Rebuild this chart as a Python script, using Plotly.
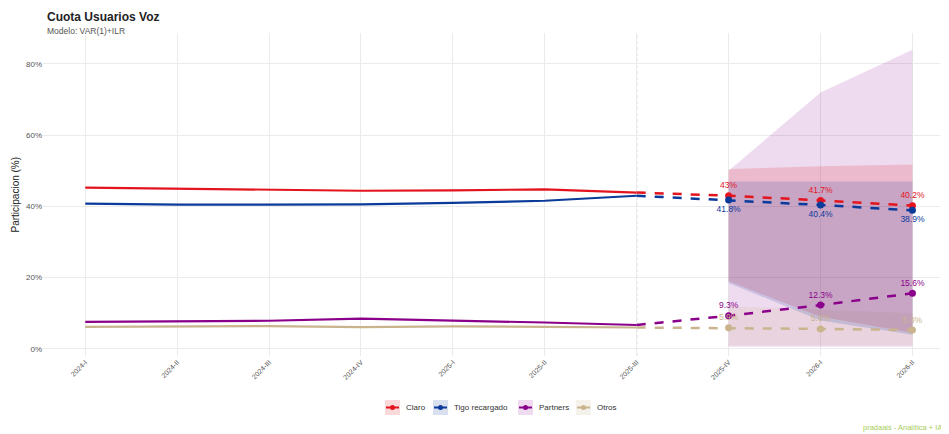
import plotly.graph_objects as go

periods = ["2024-I", "2024-II", "2024-III", "2024-IV", "2025-I", "2025-II",
           "2025-III", "2025-IV", "2026-I", "2026-II"]
hist_periods = periods[:7]
fc_periods = periods[7:]

series = ["Claro", "Tigo recargado", "Partners", "Otros"]
colors = {"Claro": "#E3141E", "Tigo recargado": "#0A3A9A",
          "Partners": "#8B008B", "Otros": "#C9B48E"}
band_rgba = {"Claro": "rgba(227,20,30,0.16)", "Tigo recargado": "rgba(10,58,154,0.16)",
             "Partners": "rgba(139,0,139,0.14)", "Otros": "rgba(201,180,142,0.18)"}

hist_claro = [45.3, 45.0, 44.7, 44.4, 44.5, 44.8, 43.9]
hist_tigo = [40.8, 40.5, 40.5, 40.6, 41.0, 41.6, 43.0]
hist_partners = [7.6, 7.8, 7.9, 8.5, 8.0, 7.4, 6.7]
hist_otros = [6.2, 6.3, 6.4, 6.1, 6.3, 6.2, 6.0]

fc_claro = [43.0, 41.7, 40.2]
fc_tigo = [41.8, 40.4, 38.9]
fc_partners = [9.3, 12.3, 15.6]
fc_otros = [5.9, 5.6, 5.3]

lo_claro = [19.0, 9.0, 4.5]
hi_claro = [50.5, 51.3, 51.8]
lo_tigo = [18.5, 8.0, 4.0]
hi_tigo = [47.0, 47.0, 47.0]
lo_partners = [0.6, 0.6, 0.6]
hi_partners = [50.0, 72.0, 84.0]
lo_otros = [1.0, 1.0, 1.0]
hi_otros = [12.0, 11.0, 10.0]

hist = {"Claro": hist_claro, "Tigo recargado": hist_tigo,
        "Partners": hist_partners, "Otros": hist_otros}
fc = {"Claro": fc_claro, "Tigo recargado": fc_tigo,
      "Partners": fc_partners, "Otros": fc_otros}
lo = {"Claro": lo_claro, "Tigo recargado": lo_tigo,
      "Partners": lo_partners, "Otros": lo_otros}
hi = {"Claro": hi_claro, "Tigo recargado": hi_tigo,
      "Partners": hi_partners, "Otros": hi_otros}
label_pos = {"Claro": "top center", "Tigo recargado": "bottom center",
             "Partners": "top center", "Otros": "top center"}

# figure geometry (page is offset by the 8px body margin)
W, H = 941, 426
ML, MR, MT, MB = 35, 9, 25, 78
PW = W - ML - MR
PH = H - MT - MB


def px_x(x):  # page x -> paper x
    return (x - 8 - ML) / PW


def px_y(y):  # page y -> paper y
    return (H - MB + 8 - y) / PH


fig = go.Figure()

# bands
for s in ["Partners", "Otros", "Claro", "Tigo recargado"]:
    fig.add_trace(go.Scatter(
        x=fc_periods + fc_periods[::-1], y=hi[s] + lo[s][::-1],
        fill="toself", fillcolor=band_rgba[s], line=dict(width=0),
        mode="lines", showlegend=False, hoverinfo="skip"))

# historical lines
for s in series:
    fig.add_trace(go.Scatter(x=hist_periods, y=hist[s], mode="lines",
                             line=dict(color=colors[s], width=2.2),
                             showlegend=False))


def fmt(v):
    t = f"{v:.1f}"
    if t.endswith(".0"):
        t = t[:-2]
    return t + "%"


# forecast dashed lines
for s in series:
    fig.add_trace(go.Scatter(x=[hist_periods[-1]] + fc_periods,
                             y=[hist[s][-1]] + fc[s], mode="lines",
                             line=dict(color=colors[s], width=2.5, dash="dash"),
                             showlegend=False))
    fig.add_trace(go.Scatter(x=fc_periods, y=fc[s], mode="markers+text",
                             marker=dict(color=colors[s], size=7),
                             text=[fmt(v) for v in fc[s]],
                             textposition=label_pos[s],
                             textfont=dict(color=colors[s], size=8.5),
                             showlegend=False))

fig.add_shape(type="line", xref="x", yref="paper", x0=6, x1=6, y0=0, y1=1,
              line=dict(color="#B0B0B0", width=1, dash="dot"), layer="below")

# manual legend (ggplot style keys)
legend_keys = {"Claro": 385, "Tigo recargado": 433, "Partners": 518, "Otros": 576}
ky0, ky1 = 400, 415
for s in series:
    x0 = legend_keys[s]
    fig.add_shape(type="rect", xref="paper", yref="paper",
                  x0=px_x(x0), x1=px_x(x0 + 15), y0=px_y(ky1), y1=px_y(ky0),
                  fillcolor=band_rgba[s], line=dict(width=0))
    fig.add_shape(type="line", xref="paper", yref="paper",
                  x0=px_x(x0 + 1), x1=px_x(x0 + 14), y0=px_y(407.5), y1=px_y(407.5),
                  line=dict(color=colors[s], width=2))
    fig.add_shape(type="circle", xref="paper", yref="paper",
                  x0=px_x(x0 + 5), x1=px_x(x0 + 10), y0=px_y(410), y1=px_y(405),
                  fillcolor=colors[s], line=dict(width=0))
    fig.add_annotation(text=s, xref="paper", yref="paper", x=px_x(x0 + 19),
                       y=px_y(407.5), xanchor="left", yanchor="middle",
                       showarrow=False, font=dict(size=8, color="#333333"))

fig.add_annotation(text="<b>Cuota Usuarios Voz</b>", xref="paper", yref="paper",
                   x=px_x(45), y=px_y(8), xanchor="left", yanchor="top",
                   showarrow=False, font=dict(size=12, color="#222222"))
fig.add_annotation(text="Modelo: VAR(1)+ILR", xref="paper", yref="paper",
                   x=px_x(45), y=px_y(24), xanchor="left", yanchor="top",
                   showarrow=False, font=dict(size=8.5, color="#555555"))
fig.add_annotation(text="Participacion (%)", xref="paper", yref="paper",
                   x=px_x(15), y=0.5, xanchor="center", yanchor="middle",
                   textangle=-90, showarrow=False,
                   font=dict(size=10, color="#222222"))
fig.add_annotation(text="pradaais - Analítica + IA", xref="paper", yref="paper",
                   x=px_x(944), y=px_y(427), xanchor="right", yanchor="middle",
                   showarrow=False, font=dict(size=7.5, color="#A8CC5A"))

fig.update_layout(
    width=W, height=H,
    margin=dict(l=ML, r=MR, t=MT, b=MB),
    paper_bgcolor="white", plot_bgcolor="white",
    font=dict(family="Liberation Sans, Arial, sans-serif", color="#444444"),
    showlegend=False,
    xaxis=dict(type="category", categoryorder="array", categoryarray=periods,
               range=[-0.46, 9.3], showgrid=True, gridcolor="#EBEBEB",
               tickangle=-45, tickfont=dict(size=7, color="#555555"),
               zeroline=False, showline=False, ticks="", automargin=False),
    yaxis=dict(range=[-2, 88.7], tickvals=[0, 20, 40, 60, 80],
               ticktext=["0%", "20%", "40%", "60%", "80%"],
               showgrid=True, gridcolor="#EBEBEB", zeroline=False,
               tickfont=dict(size=8, color="#555555"), automargin=False),
)

fig.write_html("out.html")
